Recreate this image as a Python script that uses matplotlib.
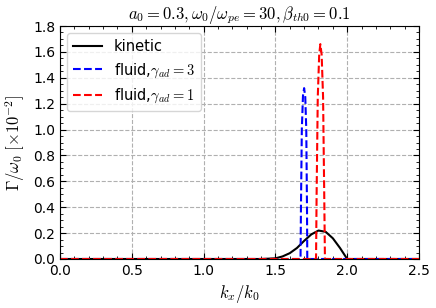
import matplotlib
matplotlib.use("Agg")
import matplotlib.pyplot as plt
from matplotlib.ticker import MultipleLocator

plt.rcParams['mathtext.fontset'] = 'cm'
plt.rcParams['font.family'] = 'DejaVu Sans'

kin_x = [0.0, 1.40, 1.50, 1.55, 1.60, 1.65, 1.70, 1.75, 1.80, 1.85, 1.90, 1.95, 2.00, 2.50]
kin_y = [0.0, 0.0, 0.005, 0.02, 0.045, 0.085, 0.14, 0.19, 0.22, 0.21, 0.16, 0.085, 0.0, 0.0]

g3_x = [0.0, 1.675, 1.678, 1.684, 1.692, 1.700, 1.708, 1.715, 1.720, 1.722, 2.50]
g3_y = [0.0, 0.0, 0.4, 1.0, 1.26, 1.32, 1.25, 1.0, 0.4, 0.0, 0.0]

g1_x = [0.0, 1.783, 1.787, 1.795, 1.805, 1.813, 1.822, 1.832, 1.840, 1.845, 2.50]
g1_y = [0.0, 0.0, 0.5, 1.25, 1.58, 1.66, 1.58, 1.25, 0.5, 0.0, 0.0]

fig = plt.figure(figsize=(4.36, 3.08), dpi=100)
ax = fig.add_axes([60/436, 1-259/308, 359/436, 233/308])

ax.plot(kin_x, kin_y, color='black', lw=1.5, label='kinetic')
ax.plot(g3_x, g3_y, color='blue', lw=1.5, ls='--', label=r'fluid,$\gamma_{ad}=3$')
ax.plot(g1_x, g1_y, color='red', lw=1.5, ls='--', label=r'fluid,$\gamma_{ad}=1$')

ax.set_xlim(0, 2.5)
ax.set_ylim(0, 1.8)
ax.xaxis.set_major_locator(MultipleLocator(0.5))
ax.xaxis.set_minor_locator(MultipleLocator(0.1))
ax.yaxis.set_major_locator(MultipleLocator(0.2))
ax.yaxis.set_minor_locator(MultipleLocator(0.05))
ax.tick_params(which='both', direction='in', top=True, right=True, labelsize=10)
ax.tick_params(which='major', length=4)
ax.tick_params(which='minor', length=2)
ax.grid(True, ls='--', color='#b0b0b0', lw=0.8)

ax.set_xlabel(r'$k_x/k_0$', fontsize=12)
ax.set_ylabel(r'$\Gamma/\omega_0\ [\times 10^{-2}]$', fontsize=12)
ax.set_title(r'$a_0=0.3,\omega_0/\omega_{pe}=30,\beta_{th0}=0.1$', fontsize=12, pad=3)
ax.legend(loc='upper left', fontsize=10.5)

fig.savefig('out.png', dpi=100)
